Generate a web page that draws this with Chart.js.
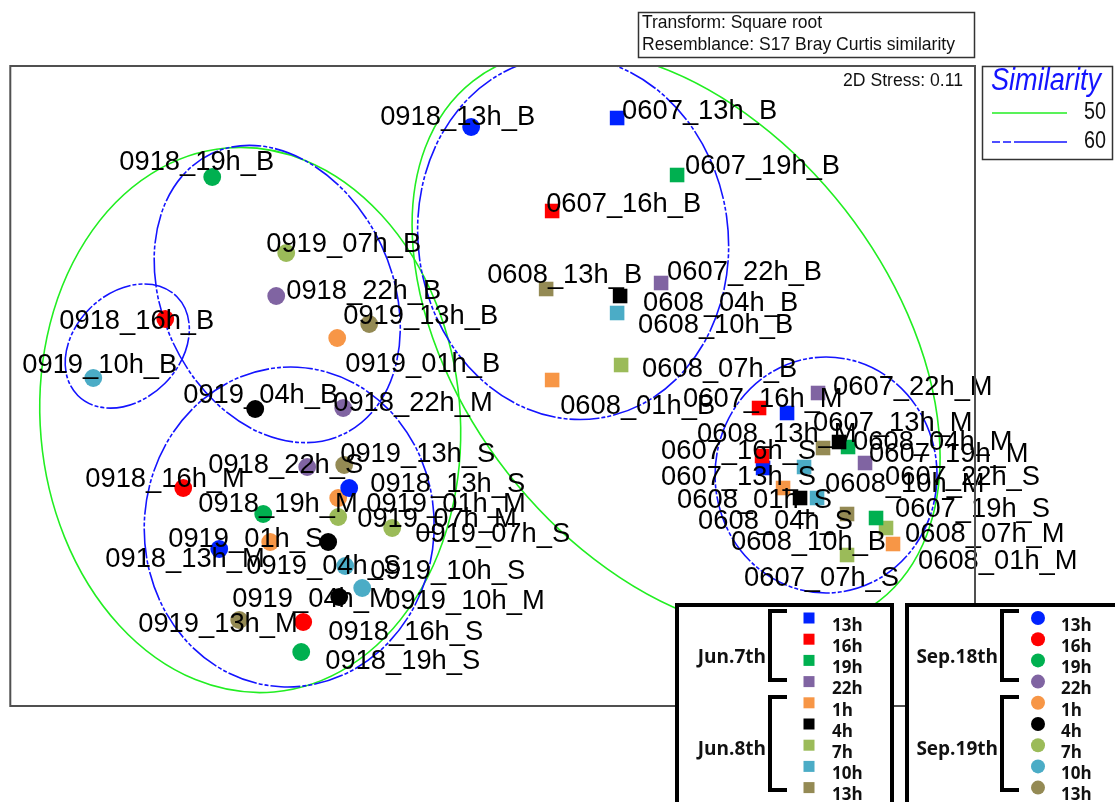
<!DOCTYPE html>
<html>
<head>
<meta charset="utf-8">
<script src="https://cdn.jsdelivr.net/npm/chart.js@4.4.1/dist/chart.umd.min.js"></script>
<style>
  html, body { margin: 0; padding: 0; background: #fff; }
</style>
</head>
<body>
<canvas id="nmds" width="1115" height="802"></canvas>
<script>
// nMDS of samples, ids are date_hour_layer
const sampleIds = [
  "0607_13h_B", "0607_16h_B", "0607_19h_B", "0607_22h_B", "0608_01h_B", "0608_04h_B", "0608_07h_B", "0608_10h_B", "0608_13h_B",
  "0607_13h_M", "0607_16h_M", "0607_19h_M", "0607_22h_M", "0608_01h_M", "0608_04h_M", "0608_07h_M", "0608_10h_M", "0608_13h_M",
  "0607_13h_S", "0607_16h_S", "0607_19h_S", "0607_22h_S", "0608_01h_S", "0608_04h_S", "0608_07h_S", "0608_10h_S", "0608_13h_S",
  "0918_13h_B", "0918_16h_B", "0918_19h_B", "0918_22h_B", "0919_01h_B", "0919_04h_B", "0919_07h_B", "0919_10h_B", "0919_13h_B",
  "0918_13h_M", "0918_16h_M", "0918_19h_M", "0918_22h_M", "0919_01h_M", "0919_04h_M", "0919_07h_M", "0919_10h_M", "0919_13h_M",
  "0918_13h_S", "0918_16h_S", "0918_19h_S", "0918_22h_S", "0919_01h_S", "0919_04h_S", "0919_07h_S", "0919_10h_S", "0919_13h_S"
];
// text printed on the plot (as in the original figure)
const pointLabels = sampleIds.slice();
pointLabels[24] = "0607_07h_S";
pointLabels[25] = "0608_10h_B";
pointLabels[26] = "";

const mds1 = [
  1.245, 0.595, 1.845, 1.685, 0.595, 1.275, 1.285, 1.245, 0.535,
  2.945, 2.665, 3.555, 3.255, 4.005, 3.465, 3.935, 3.115, 3.305,
  2.705, 2.695, 3.835, 3.725, 2.905, 3.075, 3.545, 3.245, 3.545,
  -0.215, -3.275, -2.805, -2.165, -1.555, -2.375, -2.065, -3.995, -1.235,
  -2.735, -3.095, -2.295, -1.495, -1.545, -1.535, -1.545, -1.305, -2.535,
  -1.435, -1.895, -1.915, -1.855, -2.225, -1.645, -1.005, -1.475, -1.485
];
const mds2 = [
  2.68, 1.75, 2.11, 1.03, 0.06, 0.90, 0.21, 0.73, 0.97,
  -0.27, -0.22, -0.61, -0.07, -1.58, -0.56, -1.42, -0.81, -0.62,
  -0.82, -0.70, -1.32, -0.77, -1.02, -1.12, -1.69, -1.12, -1.28,
  2.59, 0.67, 2.09, 0.90, 0.48, -0.23, 1.33, 0.08, 0.62,
  -1.63, -1.02, -1.28, -0.22, -1.12, -2.11, -1.31, -2.02, -2.34,
  -1.02, -2.36, -2.66, -0.81, -1.56, -1.56, -1.42, -1.80, -0.79
];

// where each label sits relative to its point (px: left edge, vertical middle)
const labelOffsets = [
  [5, -6], [-6, -6], [8, -8], [6, -10], [8, 27], [23, 8], [21, 5], [21, 13], [-59, -13],
  [26, 11], [-76, -8], [21, 8], [15, -5], [25, 18], [14, 1], [19, 7], [21, 18], [-126, -13],
  [-102, 10], [-101, -4], [19, -8], [20, 15], [-106, 13], [-102, 24], [-103, 24], [-86, 45], [0, 0],
  [-91, -9], [-106, 3], [-93, -14], [10, -4], [8, 27], [-72, -13], [-20, -8], [-71, -12], [-26, -7],
  [-114, 11], [-98, -8], [-65, -9], [-10, -4], [28, 7], [-107, 3], [19, 3], [23, 14], [-101, 5],
  [21, -3], [25, 11], [24, 10], [-99, -1], [-102, -2], [-82, 25], [23, 7], [25, 6], [-4, -10]
];

// similarity contours: level, centre x, centre y, half-axis x, half-axis y, angle (deg)
const contours = [
  [50, -2.425, -0.34, 2.10, 2.73, 5],
  [50, 1.835, 0.45, 3.30, 2.14, -52],
  [60, 0.805, 1.48, 1.55, 1.82, 8],
  [60, -2.155, 0.92, 1.15, 1.55, 25],
  [60, -3.655, 0.40, 0.70, 0.53, 45],
  [60, -2.035, -1.41, 1.45, 1.60, -3],
  [60, 3.335, -0.89, 1.11, 1.18, 0]
];

const firstDayColors = { "13h": "#0022ff", "16h": "#ff0000", "19h": "#00b050", "22h": "#8064a2" };
const secondDayColors = { "01h": "#f79646", "04h": "#000000", "07h": "#9bbb59", "10h": "#4bacc6", "13h": "#948a54" };
const firstDayHours = ["13h", "16h", "19h", "22h"];
const secondDayHours = ["01h", "04h", "07h", "10h", "13h"];

function colorOf(id) {
  const [date, hour] = id.split("_");
  const first = date === "0607" || date === "0918";
  return first ? firstDayColors[hour] : secondDayColors[hour];
}
const isJune = (id) => id.startsWith("06");

const points = sampleIds.map((id, i) => ({ x: mds1[i], y: mds2[i] }));
const colors = sampleIds.map(colorOf);
const styles = sampleIds.map((id) => (isJune(id) ? "rect" : "circle"));
const radii = sampleIds.map((id) => (isJune(id) ? 10.3 : 8.9));

const SANS = "'Liberation Sans', Arimo, Arial, sans-serif";
const NARROW = "'Liberation Sans Narrow', 'Liberation Sans', sans-serif";
const LEG = "'Open Sans', 'Noto Sans', sans-serif";
const BLUE_DASH = [30, 2, 4, 2, 4, 2];

// draw text squeezed/stretched horizontally to a given width
function fitText(ctx, text, x, y, width) {
  const w = ctx.measureText(text).width;
  ctx.save();
  ctx.translate(x, y);
  ctx.scale(width / w, 1);
  ctx.fillText(text, 0, 0);
  ctx.restore();
}

function bracket(ctx, x, y1, y2, x2) {
  ctx.beginPath();
  ctx.moveTo(x2, y1);
  ctx.lineTo(x, y1);
  ctx.lineTo(x, y2);
  ctx.lineTo(x2, y2);
  ctx.stroke();
}

function groupBox(ctx, left, width, title1, title2, marker) {
  ctx.fillStyle = "#fff";
  ctx.fillRect(left, 605, width, 200);
  ctx.strokeStyle = "#000";
  ctx.lineWidth = 4;
  ctx.strokeRect(left, 605, width, 240);
  ctx.font = "bold 19px " + LEG;
  ctx.fillStyle = "#111";
  ctx.textBaseline = "middle";
  ctx.textAlign = "right";
  const bx = left + (marker === "rect" ? 93 : 95);
  ctx.fillText(title1, bx - 4, 658);
  ctx.fillText(title2, bx - 4, 750);
  bracket(ctx, bx, 611, 680, bx + 17);
  bracket(ctx, bx, 697, 790, bx + 17);
  const hours = firstDayHours.concat(secondDayHours);
  hours.forEach((h, i) => {
    const c = i < 4 ? firstDayColors[h] : secondDayColors[h];
    const my = 618 + i * 21.2;
    const mx = bx + (marker === "rect" ? 39 : 36);
    ctx.fillStyle = c;
    if (marker === "rect") {
      ctx.fillRect(mx - 5.5, my - 5.5, 11, 11);
    } else {
      ctx.beginPath();
      ctx.arc(mx, my, 7, 0, Math.PI * 2);
      ctx.fill();
    }
    ctx.fillStyle = "#111";
    ctx.textAlign = "left";
    ctx.font = "bold 17px " + LEG;
    ctx.fillText(h.replace(/^0/, ""), mx + 23, my + 8);
  });
}

const overlay = {
  id: "overlay",
  beforeDatasetsDraw(chart) {
    const { ctx, chartArea: a, scales: { x, y } } = chart;
    ctx.save();
    ctx.beginPath();
    ctx.rect(a.left, a.top, a.right - a.left, a.bottom - a.top);
    ctx.clip();
    contours.forEach(([level, cx, cy, rx, ry, ang]) => {
      const px = x.getPixelForValue(cx);
      const py = y.getPixelForValue(cy);
      const sx = Math.abs(x.getPixelForValue(cx + rx) - px);
      const sy = Math.abs(y.getPixelForValue(cy + ry) - py);
      ctx.beginPath();
      ctx.ellipse(px, py, sx, sy, -ang * Math.PI / 180, 0, Math.PI * 2);
      if (level === 50) {
        ctx.strokeStyle = "#22ee22";
        ctx.setLineDash([]);
      } else {
        ctx.strokeStyle = "#1414ff";
        ctx.setLineDash(BLUE_DASH);
      }
      ctx.lineWidth = 1.6;
      ctx.stroke();
    });
    ctx.restore();
  },
  afterDatasetsDraw(chart) {
    const ctx = chart.ctx;
    const meta = chart.getDatasetMeta(0);
    ctx.save();
    ctx.font = "27px " + SANS;
    ctx.fillStyle = "#000";
    ctx.textBaseline = "middle";
    ctx.textAlign = "left";
    // reference labels are ~155px wide for "0918_13h_B"
    const sx = 155 / ctx.measureText("0918_13h_B").width;
    meta.data.forEach((pt, i) => {
      if (!pointLabels[i]) return;
      const [dx, dy] = labelOffsets[i];
      const w = ctx.measureText(pointLabels[i]).width * sx;
      fitText(ctx, pointLabels[i], pt.x + dx, pt.y + dy, w);
    });
    ctx.restore();
  },
  afterDraw(chart) {
    const { ctx, chartArea: a } = chart;
    ctx.save();
    // plot frame
    ctx.strokeStyle = "#505050";
    ctx.lineWidth = 2;
    ctx.strokeRect(a.left, a.top, a.right - a.left, a.bottom - a.top);

    // transform / resemblance box
    ctx.lineWidth = 1.5;
    ctx.strokeStyle = "#333";
    ctx.strokeRect(638.5, 12.5, 336, 45);
    ctx.fillStyle = "#111";
    ctx.textBaseline = "middle";
    ctx.textAlign = "left";
    ctx.font = "19px " + NARROW;
    fitText(ctx, "Transform: Square root", 642, 23, 180);
    fitText(ctx, "Resemblance: S17 Bray Curtis similarity", 642, 45, 313);

    ctx.font = "18px " + NARROW;
    fitText(ctx, "2D Stress: 0.11", 843, 81, 120);

    // similarity legend
    ctx.strokeRect(982.5, 66.5, 130, 93);
    ctx.fillStyle = "#1414ff";
    ctx.font = "italic 31px " + NARROW;
    fitText(ctx, "Similarity", 991, 81, 110);
    ctx.lineWidth = 1.6;
    ctx.strokeStyle = "#22ee22";
    ctx.beginPath(); ctx.moveTo(992, 113); ctx.lineTo(1067, 113); ctx.stroke();
    ctx.strokeStyle = "#1414ff";
    ctx.setLineDash([8, 3, 8, 3, 60]);
    ctx.beginPath(); ctx.moveTo(992, 142); ctx.lineTo(1067, 142); ctx.stroke();
    ctx.setLineDash([]);
    ctx.fillStyle = "#111";
    ctx.font = "23px " + NARROW;
    fitText(ctx, "50", 1084, 113, 22);
    fitText(ctx, "60", 1084, 142, 22);

    // sampling-time legends
    groupBox(ctx, 677, 215, "Jun.7th", "Jun.8th", "rect");
    groupBox(ctx, 907, 260, "Sep.18th", "Sep.19th", "circle");
    ctx.restore();
  }
};

new Chart(document.getElementById("nmds"), {
  type: "scatter",
  data: {
    datasets: [{
      data: points,
      pointStyle: styles,
      pointRadius: radii,
      pointHoverRadius: radii,
      pointBackgroundColor: colors,
      pointBorderColor: colors,
      pointBorderWidth: 0,
      clip: false
    }]
  },
  options: {
    responsive: false,
    animation: false,
    devicePixelRatio: 1,
    events: [],
    layout: { padding: { left: 10, top: 66, right: 140, bottom: 96 } },
    scales: {
      x: { type: "linear", min: -4.825, max: 4.825, display: false },
      y: { type: "linear", min: -3.2, max: 3.2, display: false }
    },
    plugins: { legend: { display: false }, tooltip: { enabled: false } }
  },
  plugins: [overlay]
});
</script>
</body>
</html>
